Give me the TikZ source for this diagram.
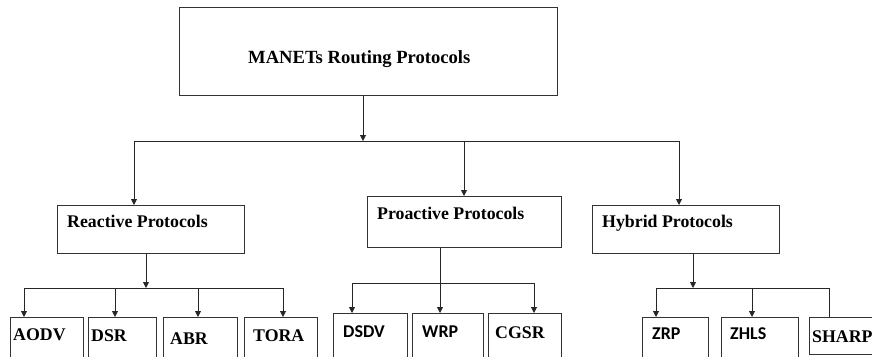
\documentclass[tikz,border=0pt]{standalone}
\usepackage{fontspec}
\setmainfont{Liberation Serif}
\newfontfamily\calib{Carlito}
\usetikzlibrary{arrows.meta}
\begin{document}
\begin{tikzpicture}[x=1pt,y=-1pt,
  box/.style={draw=black!80,line width=0.9pt,inner sep=0pt,anchor=north west},
  lbl/.style={anchor=base west,inner sep=0pt,font=\fontsize{17.8}{20}\selectfont\bfseries},
  slbl/.style={anchor=base west,inner sep=0pt,font=\calib\fontsize{18}{20}\selectfont\bfseries},
  wire/.style={draw=black!85,line width=0.9pt},
  arr/.style={wire,-{Triangle[width=6pt,length=6pt]}}]
\useasboundingbox (0,0) rectangle (872,356);
\clip (0,0) rectangle (872,356);

% root
\node[box,minimum width=378pt,minimum height=88pt] (root) at (179,7) {};
\node[lbl,font=\fontsize{18.6}{20}\selectfont\bfseries] (rootT) at (248,63) {MANETs Routing Protocols};

% category boxes
\node[box,minimum width=187pt,minimum height=48pt] (rea) at (57,205) {};
\node[lbl] (reaT) at (67,227) {Reactive Protocols};
\node[box,minimum width=194pt,minimum height=51pt] (pro) at (367,196) {};
\node[lbl] (proT) at (377,219) {Proactive Protocols};
\node[box,minimum width=187pt,minimum height=48pt] (hyb) at (592,205) {};
\node[lbl] (hybT) at (602,227) {Hybrid Protocols};

% reactive leaves
\node[box,minimum width=73pt,minimum height=60pt] (aodv) at (10,317) {};
\node[lbl] (aodvT) at (13,340) {AODV};
\node[box,minimum width=68pt,minimum height=60pt] (dsr) at (88,317) {};
\node[lbl] (dsrT) at (91,341) {DSR};
\node[box,minimum width=74pt,minimum height=60pt] (abr) at (163,317) {};
\node[lbl] (abrT) at (170,344) {ABR};
\node[box,minimum width=73pt,minimum height=60pt] (tora) at (244,317) {};
\node[lbl] (toraT) at (253,341) {TORA};

% proactive leaves
\node[box,minimum width=74pt,minimum height=60pt] (dsdv) at (333,313) {};
\node[slbl] (dsdvT) at (343,337) {DSDV};
\node[box,minimum width=71pt,minimum height=60pt] (wrp) at (412,313) {};
\node[slbl] (wrpT) at (422,337) {WRP};
\node[box,minimum width=73pt,minimum height=60pt] (cgsr) at (488,313) {};
\node[lbl] (cgsrT) at (495,338) {CGSR};

% hybrid leaves
\node[box,minimum width=66pt,minimum height=60pt] (zrp) at (642,317) {};
\node[slbl] (zrpT) at (652,339) {ZRP};
\node[box,minimum width=77pt,minimum height=60pt] (zhls) at (721,317) {};
\node[slbl] (zhlsT) at (730,339) {ZHLS};
\node[box,minimum width=80pt,minimum height=37pt] (sharp) at (809,317) {};
\node[lbl] (sharpT) at (812,342) {SHARP};

% bus junctions
\coordinate (busT) at (363,141);
\coordinate (busTL) at (134,141);
\coordinate (busTR) at (679,141);
\coordinate (busTP) at (464,141);
\coordinate (busR) at (146,288);
\coordinate (busRL) at (24,288);
\coordinate (busRR) at (283,288);
\coordinate (busP) at (440,283);
\coordinate (busPL) at (352,283);
\coordinate (busPR) at (534,283);
\coordinate (busH) at (693,288);
\coordinate (busHL) at (656,288);
\coordinate (busHR) at (829,288);

% root to categories
\draw[arr] (busT |- root.south) -- (busT);
\draw[wire] (busTL) -- (busTR);
\draw[arr] (busTL) -- (busTL |- rea.north);
\draw[arr] (busTP) -- (busTP |- pro.north);
\draw[arr] (busTR) -- (busTR |- hyb.north);

% reactive branch
\draw[arr] (busR |- rea.south) -- (busR);
\draw[wire] (busRL) -- (busRR);
\draw[arr] (busRL) -- (busRL |- aodv.north);
\draw[arr] (busRL -| 115,0) -- (115,0 |- dsr.north);
\draw[arr] (busRL -| 198,0) -- (198,0 |- abr.north);
\draw[arr] (busRR) -- (busRR |- tora.north);

% proactive branch
\draw[wire] (busP |- pro.south) -- (busP);
\draw[wire] (busPL) -- (busPR);
\draw[arr] (busPL) -- (busPL |- dsdv.north);
\draw[arr] (busP) -- (busP |- wrp.north);
\draw[arr] (busPR) -- (busPR |- cgsr.north);

% hybrid branch
\draw[arr] (busH |- hyb.south) -- (busH);
\draw[wire] (busHL) -- (busHR);
\draw[arr] (busHL) -- (busHL |- zrp.north);
\draw[arr] (busHL -| 752,0) -- (752,0 |- zhls.north);
\draw[wire] (busHR) -- (busHR |- sharp.north);
\end{tikzpicture}
\end{document}
